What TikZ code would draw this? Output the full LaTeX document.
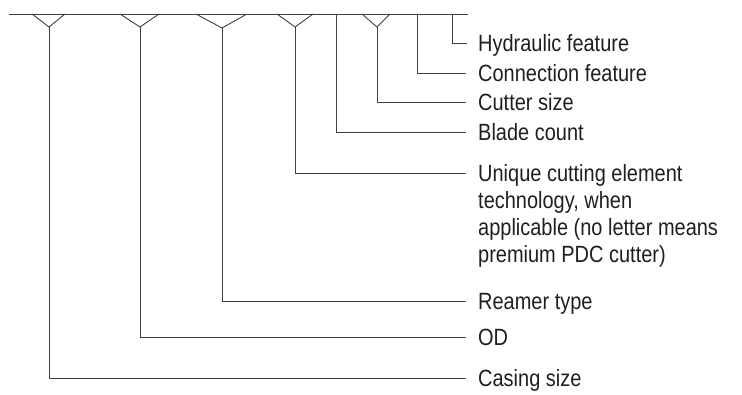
\documentclass[tikz,border=0pt]{standalone}
\usepackage{fontspec}
\setmainfont{Liberation Sans}[FakeStretch=0.85]
\begin{document}
\begin{tikzpicture}[x=1pt,y=-1pt,
  conn/.style={draw=black!75,line width=0.9pt},
  lbl/.style={anchor=base west,inner sep=0pt,text=black!88,font=\fontsize{23.5}{27}\selectfont,align=left}]
\useasboundingbox (0,0) rectangle (742,394);
% top bar
\coordinate (tl) at (9,14);
\coordinate (tr) at (468,14);
\draw[conn] (tl) -- (tr);
% vertices of Y shapes / stem tops
\coordinate (v1) at (49,27);
\coordinate (v2) at (140,27);
\coordinate (v3) at (222,28);
\coordinate (v4) at (295,27);
\coordinate (v5) at (336,14);
\coordinate (v6) at (377,27);
\coordinate (v7) at (417,14);
\coordinate (v8) at (452,14);
\draw[conn] (32,14) -- (v1) -- (65,14);
\draw[conn] (120,14) -- (v2) -- (159,14);
\draw[conn] (196,14) -- (v3) -- (247,14);
\draw[conn] (277,14) -- (v4) -- (313,14);
\draw[conn] (362,14) -- (v6) -- (390,14);
% line end points
\coordinate (e8) at (467,43);
\coordinate (e7) at (466,73);
\coordinate (e6) at (466,102);
\coordinate (e5) at (466,132);
\coordinate (e4) at (466,173);
\coordinate (e3) at (466,301);
\coordinate (e2) at (466,337);
\coordinate (e1) at (466,378);
% labels
\node[lbl] (l8) at (478,51) {Hydraulic feature};
\node[lbl] (l7) at (478,81) {Connection feature};
\node[lbl] (l6) at (478,110) {Cutter size};
\node[lbl] (l5) at (478,140) {Blade count};
\node[lbl] (l4) at (478,262) {Unique cutting element\\technology, when\\applicable (no letter means\\premium PDC cutter)};
\node[lbl] (l3) at (478,309) {Reamer type};
\node[lbl] (l2) at (478,345) {OD};
\node[lbl] (l1) at (478,386) {Casing size};
% connectors
\draw[conn] (v8) |- (e8);
\draw[conn] (v7) |- (e7);
\draw[conn] (v6) |- (e6);
\draw[conn] (v5) |- (e5);
\draw[conn] (v4) |- (e4);
\draw[conn] (v3) |- (e3);
\draw[conn] (v2) |- (e2);
\draw[conn] (v1) |- (e1);
\end{tikzpicture}
\end{document}
